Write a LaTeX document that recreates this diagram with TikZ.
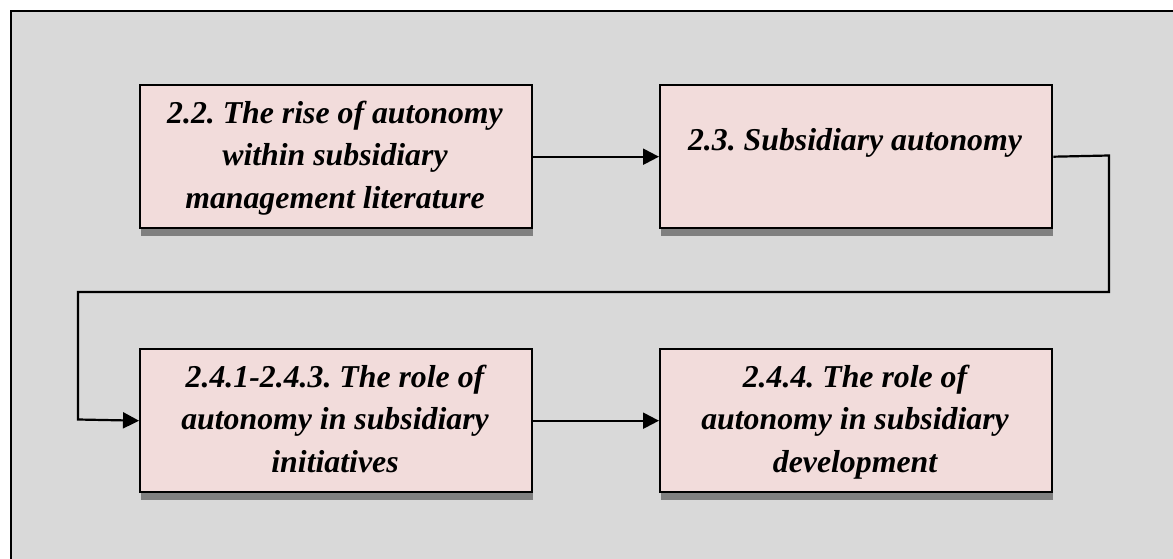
\documentclass[tikz,border=0pt]{standalone}
\usepackage{fontspec}
\setmainfont{Liberation Serif}
\usetikzlibrary{arrows.meta,calc}
\definecolor{bggray}{HTML}{D9D9D9}
\definecolor{boxpink}{HTML}{F2DCDB}
\definecolor{shadowgray}{HTML}{808080}
\tikzset{
  secbox/.style={draw=black, line width=2.4pt, fill=boxpink, minimum width=392pt, minimum height=143pt, inner sep=0pt, anchor=north west},
  boxtext/.style={align=center, font=\fontsize{31.8}{42.5}\selectfont\bfseries\itshape\frenchspacing, inner sep=0pt},
  conn/.style={line width=2.2pt, -{Triangle[length=16pt,width=16pt]}},
}
\begin{document}
\begin{tikzpicture}[x=1pt,y=-1pt]
\useasboundingbox (0,0) rectangle (1173,559);
\fill[white] (0,0) rectangle (1173,559);
\filldraw[fill=bggray, draw=black, line width=2.6pt] (11,11) rectangle (1190,580);
% shadows
\foreach \x/\y in {139/84, 659/84, 139/348, 659/348}{
  \fill[shadowgray] (\x+1.5,\y+8.5) rectangle ++(392,143);
}
\node[secbox] (b1) at (139,84) {};
\node[secbox] (b2) at (659,84) {};
\node[secbox] (b3) at (139,348) {};
\node[secbox] (b4) at (659,348) {};
\node[boxtext, anchor=base] (t1) at (335,208) {2.2. The rise of autonomy\\within subsidiary\\management literature};
\node[boxtext, anchor=base] (t2) at (855,150) {2.3. Subsidiary autonomy};
\node[boxtext, anchor=base] (t3) at (335,472) {2.4.1-2.4.3. The role of\\autonomy in subsidiary\\initiatives};
\node[boxtext, anchor=base] (t4) at (855,472) {2.4.4. The role of\\autonomy in subsidiary\\development};
\coordinate (c1) at (1109,155.5);
\coordinate (c2) at (1109,292);
\coordinate (c3) at (78,292);
\coordinate (c4) at (78,419.5);
\draw[conn] (b1.east) -- (b2.west);
\draw[conn] (b2.east) -- (c1) -- (c2) -- (c3) -- (c4) -- (b3.west);
\draw[conn] (b3.east) -- (b4.west);
\end{tikzpicture}
\end{document}
